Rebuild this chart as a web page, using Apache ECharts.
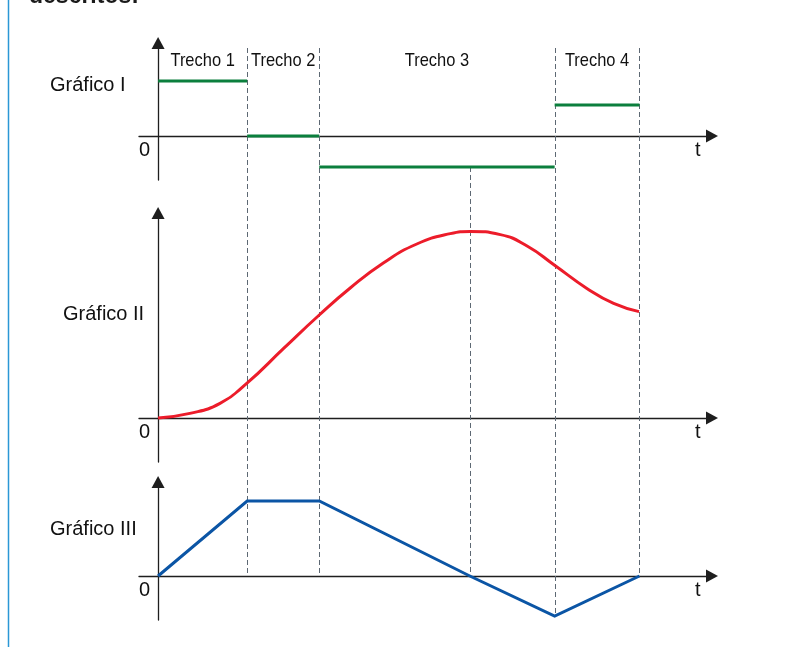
<!DOCTYPE html>
<html>
<head>
<meta charset="utf-8">
<script src="https://cdn.jsdelivr.net/npm/echarts@6/dist/echarts.min.js"></script>
<style>
  html, body { margin: 0; padding: 0; background: #fff; }
  #container { width: 792px; height: 647px; }
</style>
</head>
<body>
<div id="container"></div>
<script>
// trecho boundaries on the t axis
var tBreaks = [0, 2.1, 3.8, 9.35, 11.35];
var trechoNames = ['Trecho 1', 'Trecho 2', 'Trecho 3', 'Trecho 4'];
var graphNames = ['Gráfico I', 'Gráfico II', 'Gráfico III'];

// Gráfico I: one constant value per trecho
var accel = [1.77, 0, -1, 1];

// Gráfico II: smooth curve
var posT = [0, 0.75, 1.46, 2.09, 2.96, 3.8, 4.53, 5.31, 6.1, 6.89, 7.36, 8.07, 8.7, 9.34, 10.11, 10.74, 11.34];
var posS = [0, 0.23, 0.73, 1.73, 3.48, 5.15, 6.5, 7.75, 8.7, 9.22, 9.33, 9.17, 8.6, 7.65, 6.48, 5.73, 5.32];

// Gráfico III: broken line
var velT = [0, 2.1, 3.8, 7.35, 9.35, 11.35];
var velV = [0, 3, 3, 0, -1.6, 0];

var font = 'Liberation Sans, Arial, sans-serif';
var axisColor = '#1e1e1e';

let chart = echarts.init(document.getElementById('container'));

var accelData = [];
accel.forEach((a, i) => {
    if (i > 0) accelData.push([tBreaks[i], '-']);
    accelData.push([tBreaks[i], a], [tBreaks[i + 1], a]);
});
var posData = posT.map((t, i) => [t, posS[i]]);
var velData = velT.map((t, i) => [t, velV[i]]);

var grids = [
    { left: 139, right: 80, top: 43, height: 137 },
    { left: 139, right: 80, top: 213, height: 249 },
    { left: 139, right: 80, top: 482, height: 138 },
];
var yRanges = [[-1.42, 3.0], [-2.2, 10.25], [-1.76, 3.76]];

function axisLine() {
    return {
        onZero: true,
        symbol: ['none', 'triangle'],
        symbolSize: [13, 12],
        lineStyle: { color: axisColor, width: 1.3 },
    };
}

let option = {
    animation: false,
    grid: grids,
    xAxis: grids.map((g, i) => ({
        type: 'value',
        gridIndex: i,
        min: -0.45,
        max: 13.06,
        axisLine: axisLine(),
        axisTick: { show: false },
        axisLabel: { show: false },
        splitLine: { show: false },
    })),
    yAxis: grids.map((g, i) => ({
        type: 'value',
        gridIndex: i,
        min: yRanges[i][0],
        max: yRanges[i][1],
        axisLine: axisLine(),
        axisTick: { show: false },
        axisLabel: { show: false },
        splitLine: { show: false },
    })),
    series: [
        {
            type: 'line',
            xAxisIndex: 0,
            yAxisIndex: 0,
            data: accelData,
            showSymbol: false,
            connectNulls: false,
            z: 5,
            lineStyle: { color: '#0b7f3d', width: 3, cap: 'butt' },
        },
        {
            type: 'line',
            xAxisIndex: 1,
            yAxisIndex: 1,
            data: posData,
            smooth: 0.5,
            showSymbol: false,
            z: 5,
            lineStyle: { color: '#ec1c2a', width: 3 },
        },
        {
            type: 'line',
            xAxisIndex: 2,
            yAxisIndex: 2,
            data: velData,
            showSymbol: false,
            z: 5,
            lineStyle: { color: '#0b55a5', width: 3, join: 'miter' },
        },
    ]
};
chart.setOption(option);

// guides, labels and decorations placed through the axes
function px(axis, t) { return chart.convertToPixel({ xAxisIndex: axis }, t); }
function py(axis, v) { return chart.convertToPixel({ yAxisIndex: axis }, v); }

function text(str, x, y, size, align, extra) {
    return Object.assign({
        type: 'text',
        x: x,
        y: y,
        z: 10,
        style: {
            text: str,
            x: 0,
            y: 0,
            font: size + 'px ' + font,
            fill: '#111',
            textAlign: align,
            align: align,
            textVerticalAlign: 'middle',
            verticalAlign: 'middle',
        },
    }, extra || {});
}

var dash = { stroke: '#5d6873', lineWidth: 1, lineDash: [5, 3] };
var graphic = [];
var guideTop = py(0, yRanges[0][1]) + 5;
var zero3 = py(2, 0);

tBreaks.slice(1).forEach(t => {
    let k = velT.indexOf(t);
    let bottom = Math.max(py(2, k >= 0 ? velV[k] : 0), zero3);
    let x = Math.round(px(0, t)) + 0.5;
    graphic.push({ type: 'line', z: 1, shape: { x1: x, y1: guideTop, x2: x, y2: bottom }, style: dash });
});
// guide at the turning point (Gráfico II maximum, Gráfico III zero)
var xPeak = Math.round(px(0, velT[3])) + 0.5;
graphic.push({ type: 'line', z: 1, shape: { x1: xPeak, y1: py(0, accel[2]), x2: xPeak, y2: zero3 }, style: dash });

trechoNames.forEach((name, i) => {
    let cx = (px(0, tBreaks[i]) + px(0, tBreaks[i + 1])) / 2;
    graphic.push(text(name, cx, 61, 18.5, 'center', { scaleX: 0.89 }));
});

var nameY = [85, 314, 529];
var nameX = [50, 63, 50];
graphNames.forEach((name, i) => {
    graphic.push(text(name, nameX[i], nameY[i], 20, 'left'));
    let y0 = py(i, 0);
    graphic.push(text('0', 150, y0 + 14, 20, 'right'));
    graphic.push(text('t', 695, y0 + 14, 20, 'left'));
});

// cut-off text from the page above and the left margin rule
graphic.push({
    type: 'text', x: 29, y: 8, z: 10,
    style: { text: 'descritos:', x: 0, y: 0, font: 'bold 23px ' + font, fill: '#1a1a1a',
        textAlign: 'left', align: 'left', textVerticalAlign: 'bottom', verticalAlign: 'bottom' },
});
graphic.push({ type: 'line', z: 1, shape: { x1: 8.5, y1: 0, x2: 8.5, y2: 647 }, style: { stroke: '#2b97d5', lineWidth: 1.5 } });

chart.setOption({ graphic: graphic });
</script>
</body>
</html>
